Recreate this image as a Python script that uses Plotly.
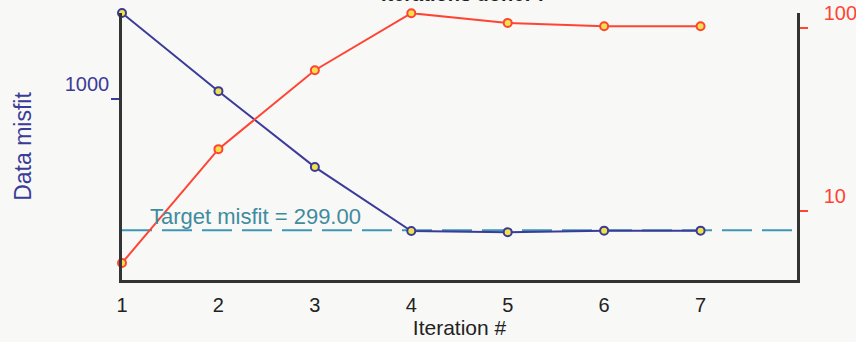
import math
import plotly.graph_objects as go

# Inversion progress per iteration
iterations = [1, 2, 3, 4, 5, 6, 7]
data_misfit = [2208, 1076, 535, 297, 294, 298, 298]
reg_param = [5.2, 21.8, 58.9, 120.8, 106.9, 102.5, 102.5]
target_misfit = 299.0

x_ticks = [1, 2, 3, 4, 5, 6, 7]
left_ticks = [1000]
right_ticks = [10, 100]

NAVY = "#3b3b98"
RED = "#ff4434"
TEAL_LINE = "#3d96b8"
TEAL_TEXT = "#3f8c9f"
AXIS = "#333333"
MARK_FILL = "#f1e24a"
FONT = "Liberation Sans, Arial, sans-serif"
BG = "#f8f8f6"

fig = go.Figure()

fig.add_trace(go.Scatter(
    x=iterations, y=data_misfit, name="Data misfit",
    mode="lines+markers", cliponaxis=False,
    line=dict(color=NAVY, width=2),
    marker=dict(size=8, color=MARK_FILL, line=dict(color=NAVY, width=2)),
    yaxis="y",
))
fig.add_trace(go.Scatter(
    x=iterations, y=reg_param, name="Regularization",
    mode="lines+markers", cliponaxis=False,
    line=dict(color=RED, width=2),
    marker=dict(size=8, color=MARK_FILL, line=dict(color=RED, width=2)),
    yaxis="y2",
))

# Target misfit level
fig.add_shape(
    type="line", xref="paper", x0=0, x1=1, yref="y",
    y0=target_misfit, y1=target_misfit, layer="below",
    line=dict(color=TEAL_LINE, width=2, dash="30px,10px"),
)
# annotation positions on a log axis are given in log10 units
fig.add_annotation(
    x=1.27, y=math.log10(target_misfit), xref="x", yref="y",
    text=f"Target misfit = {target_misfit:.2f}",
    showarrow=False, xanchor="left", yanchor="bottom", yshift=-1,
    font=dict(family=FONT, size=22, color=TEAL_TEXT),
)

# Figure title, sitting against the top edge
fig.add_annotation(
    x=0.508, y=1.071, xref="paper", yref="paper",
    text="<b>Iterations done: 7</b>", showarrow=False,
    xanchor="center", yanchor="middle",
    font=dict(family=FONT, size=20, color="#222222"),
)

fig.update_layout(
    width=856, height=342,
    margin=dict(l=122, r=59, t=13, b=62, autoexpand=False),
    paper_bgcolor=BG, plot_bgcolor=BG,
    showlegend=False,
    font=dict(family=FONT),
    xaxis=dict(
        range=[1, 8], tickvals=x_ticks,
        ticktext=[str(v) for v in x_ticks],
        showgrid=False, zeroline=False, automargin=False,
        showline=True, linecolor=AXIS, linewidth=2.5,
        ticks="", ticklabelstandoff=5,
        tickfont=dict(size=20, color="#222222"),
        title=dict(text="Iteration #", standoff=5,
                   font=dict(size=21, color="#222222")),
    ),
    yaxis=dict(
        type="log", range=[2.277, 3.3442],
        tickvals=left_ticks, ticktext=["1000"],
        showgrid=False, zeroline=False, automargin=False,
        showline=True, linecolor=AXIS, linewidth=2.5,
        ticks="outside", ticklen=8, tickwidth=2, tickcolor=NAVY,
        ticklabelposition="outside top", ticklabelstandoff=6,
        tickfont=dict(size=20, color=NAVY),
        title=dict(text="Data misfit", standoff=27,
                   font=dict(size=23, color=NAVY)),
    ),
    yaxis2=dict(
        type="log", range=[0.623, 2.083], overlaying="y", side="right",
        tickvals=right_ticks, ticktext=["10", "100"],
        showgrid=False, zeroline=False, automargin=False,
        showline=True, linecolor=AXIS, linewidth=2.5,
        ticks="outside", ticklen=8, tickwidth=2, tickcolor=RED,
        ticklabelposition="outside top", ticklabelstandoff=20,
        tickfont=dict(size=20, color=RED),
    ),
)

fig.write_html("out.html")
